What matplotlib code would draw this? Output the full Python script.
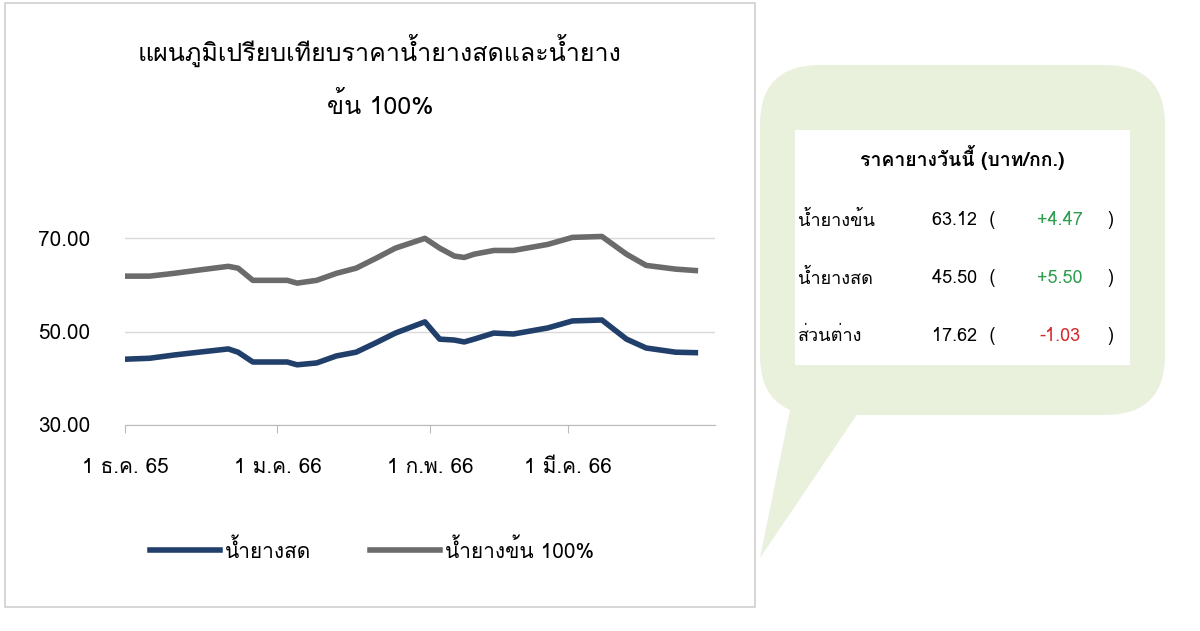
import datetime as dt
import matplotlib
matplotlib.use("Agg")
import matplotlib.pyplot as plt
import matplotlib.dates as mdates
from matplotlib.patches import FancyBboxPatch, Polygon, Rectangle
from matplotlib import font_manager as fm
from matplotlib.ft2font import FT2Font

# pick a font with Thai glyphs
thai = None
for f in fm.fontManager.ttflist:
    try:
        if 0x0E01 in FT2Font(f.fname).get_charmap():
            thai = f.name; break
    except Exception:
        pass
fams = ([thai] if thai else []) + ['DejaVu Sans']
plt.rcParams['font.family'] = fams

day_offsets = [0, 5, 10, 15, 21, 23, 26, 33, 35, 39, 43, 47, 51, 55, 61, 64, 67, 69, 71, 75, 79, 86, 91, 97, 102, 106, 112, 116]
fresh = [44.1, 44.3, 45.0, 45.6, 46.3, 45.6, 43.5, 43.5, 42.9, 43.3, 44.8, 45.6, 47.6, 49.7, 52.1, 48.4, 48.2, 47.8, 48.4, 49.7, 49.5, 50.8, 52.3, 52.5, 48.4, 46.5, 45.6, 45.5]
conc = [61.9, 61.9, 62.5, 63.2, 64.0, 63.6, 61.0, 61.0, 60.4, 61.0, 62.5, 63.6, 65.7, 67.9, 70.0, 67.9, 66.2, 65.9, 66.6, 67.4, 67.4, 68.7, 70.2, 70.4, 66.6, 64.2, 63.4, 63.1]
xtick_labels = ["1 ธ.ค. 65", "1 ม.ค. 66", "1 ก.พ. 66", "1 มี.ค. 66"]
series_names = ["น้ำยางสด", "น้ำยางข้น 100%"]
table_rows = [("น้ำยางข้น", "63.12", "+4.47"), ("น้ำยางสด", "45.50", "+5.50"), ("ส่วนต่าง", "17.62", "-1.03")]

start = dt.date(2022, 12, 1)
dates = [start + dt.timedelta(days=d) for d in day_offsets]
ticks = [dt.date(2022, 12, 1), dt.date(2023, 1, 1), dt.date(2023, 2, 1), dt.date(2023, 3, 1)]

W, H = 1200, 631
fig = plt.figure(figsize=(12, 6.31), dpi=100)
def fx(x): return x / W
def fy(y): return 1 - y / H

# chart frame
fig.patches.append(Rectangle((fx(5), fy(607)), fx(750), fy(3) - fy(607), transform=fig.transFigure,
                             facecolor='white', edgecolor='#d0d0d0', lw=1.2, zorder=-5))

ax = fig.add_axes([fx(125), fy(425), fx(590), fy(215) - fy(425)])
ax.set_zorder(5)
ax.plot(dates, fresh, color='#213f6b', lw=4)
ax.plot(dates, conc, color='#6b6b6b', lw=4)
ax.set_xlim(dt.date(2022, 12, 1), dt.date(2023, 3, 31))
ax.set_ylim(30, 75)
ax.set_yticks([30, 50, 70])
ax.set_yticklabels(["30.00", "50.00", "70.00"], fontsize=15)
ax.set_xticks(ticks)
ax.set_xticklabels(xtick_labels, fontsize=15)
ax.tick_params(axis='x', length=6, color='#bbbbbb', pad=18)
ax.tick_params(axis='y', length=0, pad=25)
ax.grid(axis='y', color='#d9d9d9', lw=1)
for s in ['top', 'right', 'left']:
    ax.spines[s].set_visible(False)
ax.spines['bottom'].set_color('#bbbbbb')
ax.set_facecolor('none')

fig.text(fx(380), fy(50), "แผนภูมิเปรียบเทียบราคาน้ำยางสดและน้ำยาง", ha='center', va='center', fontsize=18)
fig.text(fx(380), fy(105), "ข้น 100%", ha='center', va='center', fontsize=18)

# legend
fig.lines.append(plt.Line2D([fx(150), fx(220)], [fy(550), fy(550)], transform=fig.transFigure, color='#213f6b', lw=4))
fig.text(fx(225), fy(550), series_names[0], va='center', fontsize=15)
fig.lines.append(plt.Line2D([fx(370), fx(440)], [fy(550), fy(550)], transform=fig.transFigure, color='#6b6b6b', lw=4))
fig.text(fx(445), fy(550), series_names[1], va='center', fontsize=15)

# bubble
green = '#e9f0dc'
fig.patches.append(FancyBboxPatch((fx(760), fy(415)), fx(405), fy(65) - fy(415),
                                  boxstyle="round,pad=0,rounding_size=0.05", transform=fig.transFigure,
                                  facecolor=green, edgecolor='none', mutation_aspect=1.9))
fig.patches.append(Polygon([(fx(790), fy(410)), (fx(760), fy(558)), (fx(860), fy(410))],
                           closed=True, transform=fig.transFigure, facecolor=green, edgecolor='none'))
fig.patches.append(Rectangle((fx(795), fy(365)), fx(335), fy(130) - fy(365), transform=fig.transFigure,
                             facecolor='white', edgecolor='none'))
fig.text(fx(962), fy(157), "ราคายางวันนี้ (บาท/กก.)", ha='center', va='center', fontsize=14, weight='bold')
for i, (name, val, chg) in enumerate(table_rows):
    y = fy(220 + 58 * i)
    fig.text(fx(798), y, name, va='center', fontsize=13)
    fig.text(fx(995), y, val + "  (", ha='right', va='center', fontsize=13)
    col = '#2e9e4f' if chg.startswith('+') else '#d62728'
    fig.text(fx(1060), y, chg, ha='center', va='center', fontsize=13, color=col)
    fig.text(fx(1110), y, ")", ha='center', va='center', fontsize=13)

fig.savefig("out.png", dpi=100)
